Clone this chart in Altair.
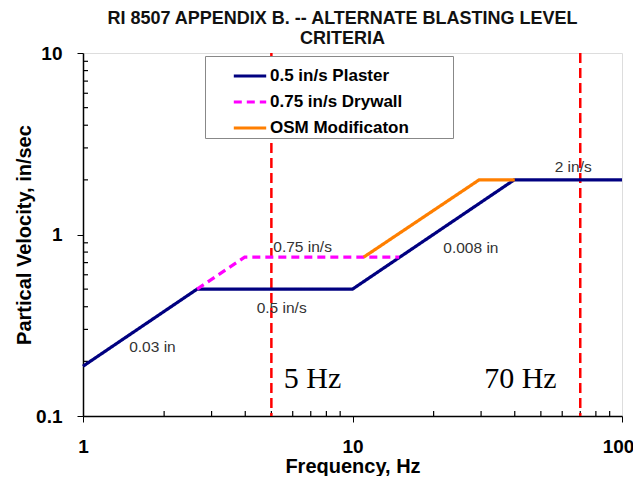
import altair as alt
import pandas as pd

# ---- data ----
series_names = ["0.5 in/s Plaster", "0.75 in/s Drywall", "OSM Modificaton"]
series_colors = ["#000080", "#ff00ff", "#ff7f00"]

plaster_f = [1, 2.65, 10, 39.8, 100]
plaster_v = [0.188, 0.5, 0.5, 2.0, 2.0]
drywall_f = [2.65, 3.98, 14.9]
drywall_v = [0.5, 0.75, 0.75]
osm_f = [11.0, 29.5, 40.0]
osm_v = [0.75, 2.0, 2.0]

vline_f = [5, 70]

ann_text = ["0.03 in", "0.75 in/s", "0.5 in/s", "0.008 in", "2 in/s"]
ann_f = [1.81, 6.53, 5.46, 27.5, 65.9]
ann_v = [0.24, 0.855, 0.394, 0.843, 2.36]

hz_text = ["5 Hz", "70 Hz"]
hz_f = [5.56, 30.8]
hz_v = [0.1425, 0.1425]

x_major = [1, 10, 100]
x_minor = [2, 3, 4, 5, 6, 7, 8, 9, 20, 30, 40, 50, 60, 70, 80, 90]
y_major = [0.1, 1, 10]
y_minor = [0.2, 0.3, 0.4, 0.5, 0.6, 0.7, 0.8, 0.9, 2, 3, 4, 5, 6, 7, 8, 9]

rows = []
for i, (fs, vs) in enumerate([(plaster_f, plaster_v), (drywall_f, drywall_v), (osm_f, osm_v)]):
    for j, (f, v) in enumerate(zip(fs, vs)):
        rows.append({"series": series_names[i], "f": f, "v": v, "k": j})
lines_df = pd.DataFrame(rows)

W, H = 539, 363
FONT = "Liberation Sans"

xscale = alt.Scale(type="log", domain=[1, 100], nice=False)
yscale = alt.Scale(type="log", domain=[0.1, 10], nice=False)

xax = alt.Axis(values=x_major, format="~g", title="Frequency, Hz", grid=False,
               tickSize=6, tickColor="black", domainColor="black", domainWidth=1.5,
               labelFontSize=19, labelFontWeight="bold", labelFont=FONT, labelPadding=15,
               labelOffset={"condition": {"test": "datum.value == 100", "value": -4}, "value": 0},
               labelColor="black", titleFontSize=20, titleFontWeight="bold", titleFont=FONT,
               titleColor="black", titlePadding=0, labelFlush=False)
yax = alt.Axis(values=y_major, format="~g", title="Partical Velocity, in/sec", grid=False,
               tickSize=6, tickColor="black", domainColor="black", domainWidth=1.5,
               labelFontSize=19, labelFontWeight="bold", labelFont=FONT, labelPadding=15,
               labelColor="black", titleFontSize=20, titleFontWeight="bold", titleFont=FONT,
               titleColor="black", titlePadding=1, labelFlush=False)

vdf = pd.DataFrame({"f": vline_f})
vlines = alt.Chart(vdf).mark_rule(color="#ff0000", strokeWidth=2.5, strokeDash=[10, 5]).encode(
    x=alt.X("f:Q", scale=xscale, axis=xax)
)

xmin_df = pd.DataFrame({"f": x_minor})
xminor = alt.Chart(xmin_df).mark_rule(color="black", strokeWidth=1.2).encode(
    x=alt.X("f:Q", scale=xscale), y=alt.value(H), y2=alt.value(H - 5)
)
ymin_df = pd.DataFrame({"v": y_minor})
yminor = alt.Chart(ymin_df).mark_rule(color="black", strokeWidth=1.2).encode(
    y=alt.Y("v:Q", scale=yscale, axis=yax), x=alt.value(0), x2=alt.value(5)
)

lines = alt.Chart(lines_df).mark_line(strokeWidth=3.2).encode(
    x=alt.X("f:Q", scale=xscale),
    y=alt.Y("v:Q", scale=yscale),
    order="k:Q",
    color=alt.Color("series:N", scale=alt.Scale(domain=series_names, range=series_colors),
                    legend=alt.Legend(title=" ", titleOrient="right", titlePadding=42,
                                      titleFontSize=1,
                                      orient="none", legendX=122, legendY=3,
                                      symbolType="stroke", symbolSize=1050, symbolStrokeWidth=3,
                                      labelFontSize=17, labelFontWeight="bold", labelFont=FONT,
                                      labelColor="black", fillColor="white", strokeColor="#888888",
                                      padding=2, symbolOffset=25, labelOffset=2, rowPadding=0)),
    strokeDash=alt.StrokeDash("series:N", scale=alt.Scale(domain=series_names,
                                                          range=[[1, 0], [8, 5], [1, 0]]),
                              legend=None),
)

ann_df = pd.DataFrame({"t": ann_text, "f": ann_f, "v": ann_v})
ann = alt.Chart(ann_df).mark_text(font=FONT, fontSize=15.5, color="#333333", align="center",
                                  baseline="middle").encode(
    x=alt.X("f:Q", scale=xscale), y=alt.Y("v:Q", scale=yscale), text="t:N"
)

hz_df = pd.DataFrame({"t": hz_text, "f": hz_f, "v": hz_v})
hz = alt.Chart(hz_df).mark_text(font="Liberation Serif", fontSize=30, color="black", align="left",
                                baseline="alphabetic").encode(
    x=alt.X("f:Q", scale=xscale), y=alt.Y("v:Q", scale=yscale), text="t:N"
)

chart = alt.layer(xminor, yminor, vlines, lines, ann, hz).properties(
    width=W, height=H,
    title=alt.Title(["RI 8507 APPENDIX B. -- ALTERNATE BLASTING LEVEL", "CRITERIA"],
                    font=FONT, fontSize=18, fontWeight="bold", color="#111111",
                    anchor="middle", dx=-10, offset=0, dy=4, lineHeight=20),
    autosize=alt.AutoSizeParams(type="none"),
    padding={"left": 75, "top": 45, "right": 11, "bottom": 60},
).configure_view(stroke="black", strokeWidth=1.5).configure(background="white")

chart.save("out.html", embed_options={"renderer": "svg", "actions": False})
